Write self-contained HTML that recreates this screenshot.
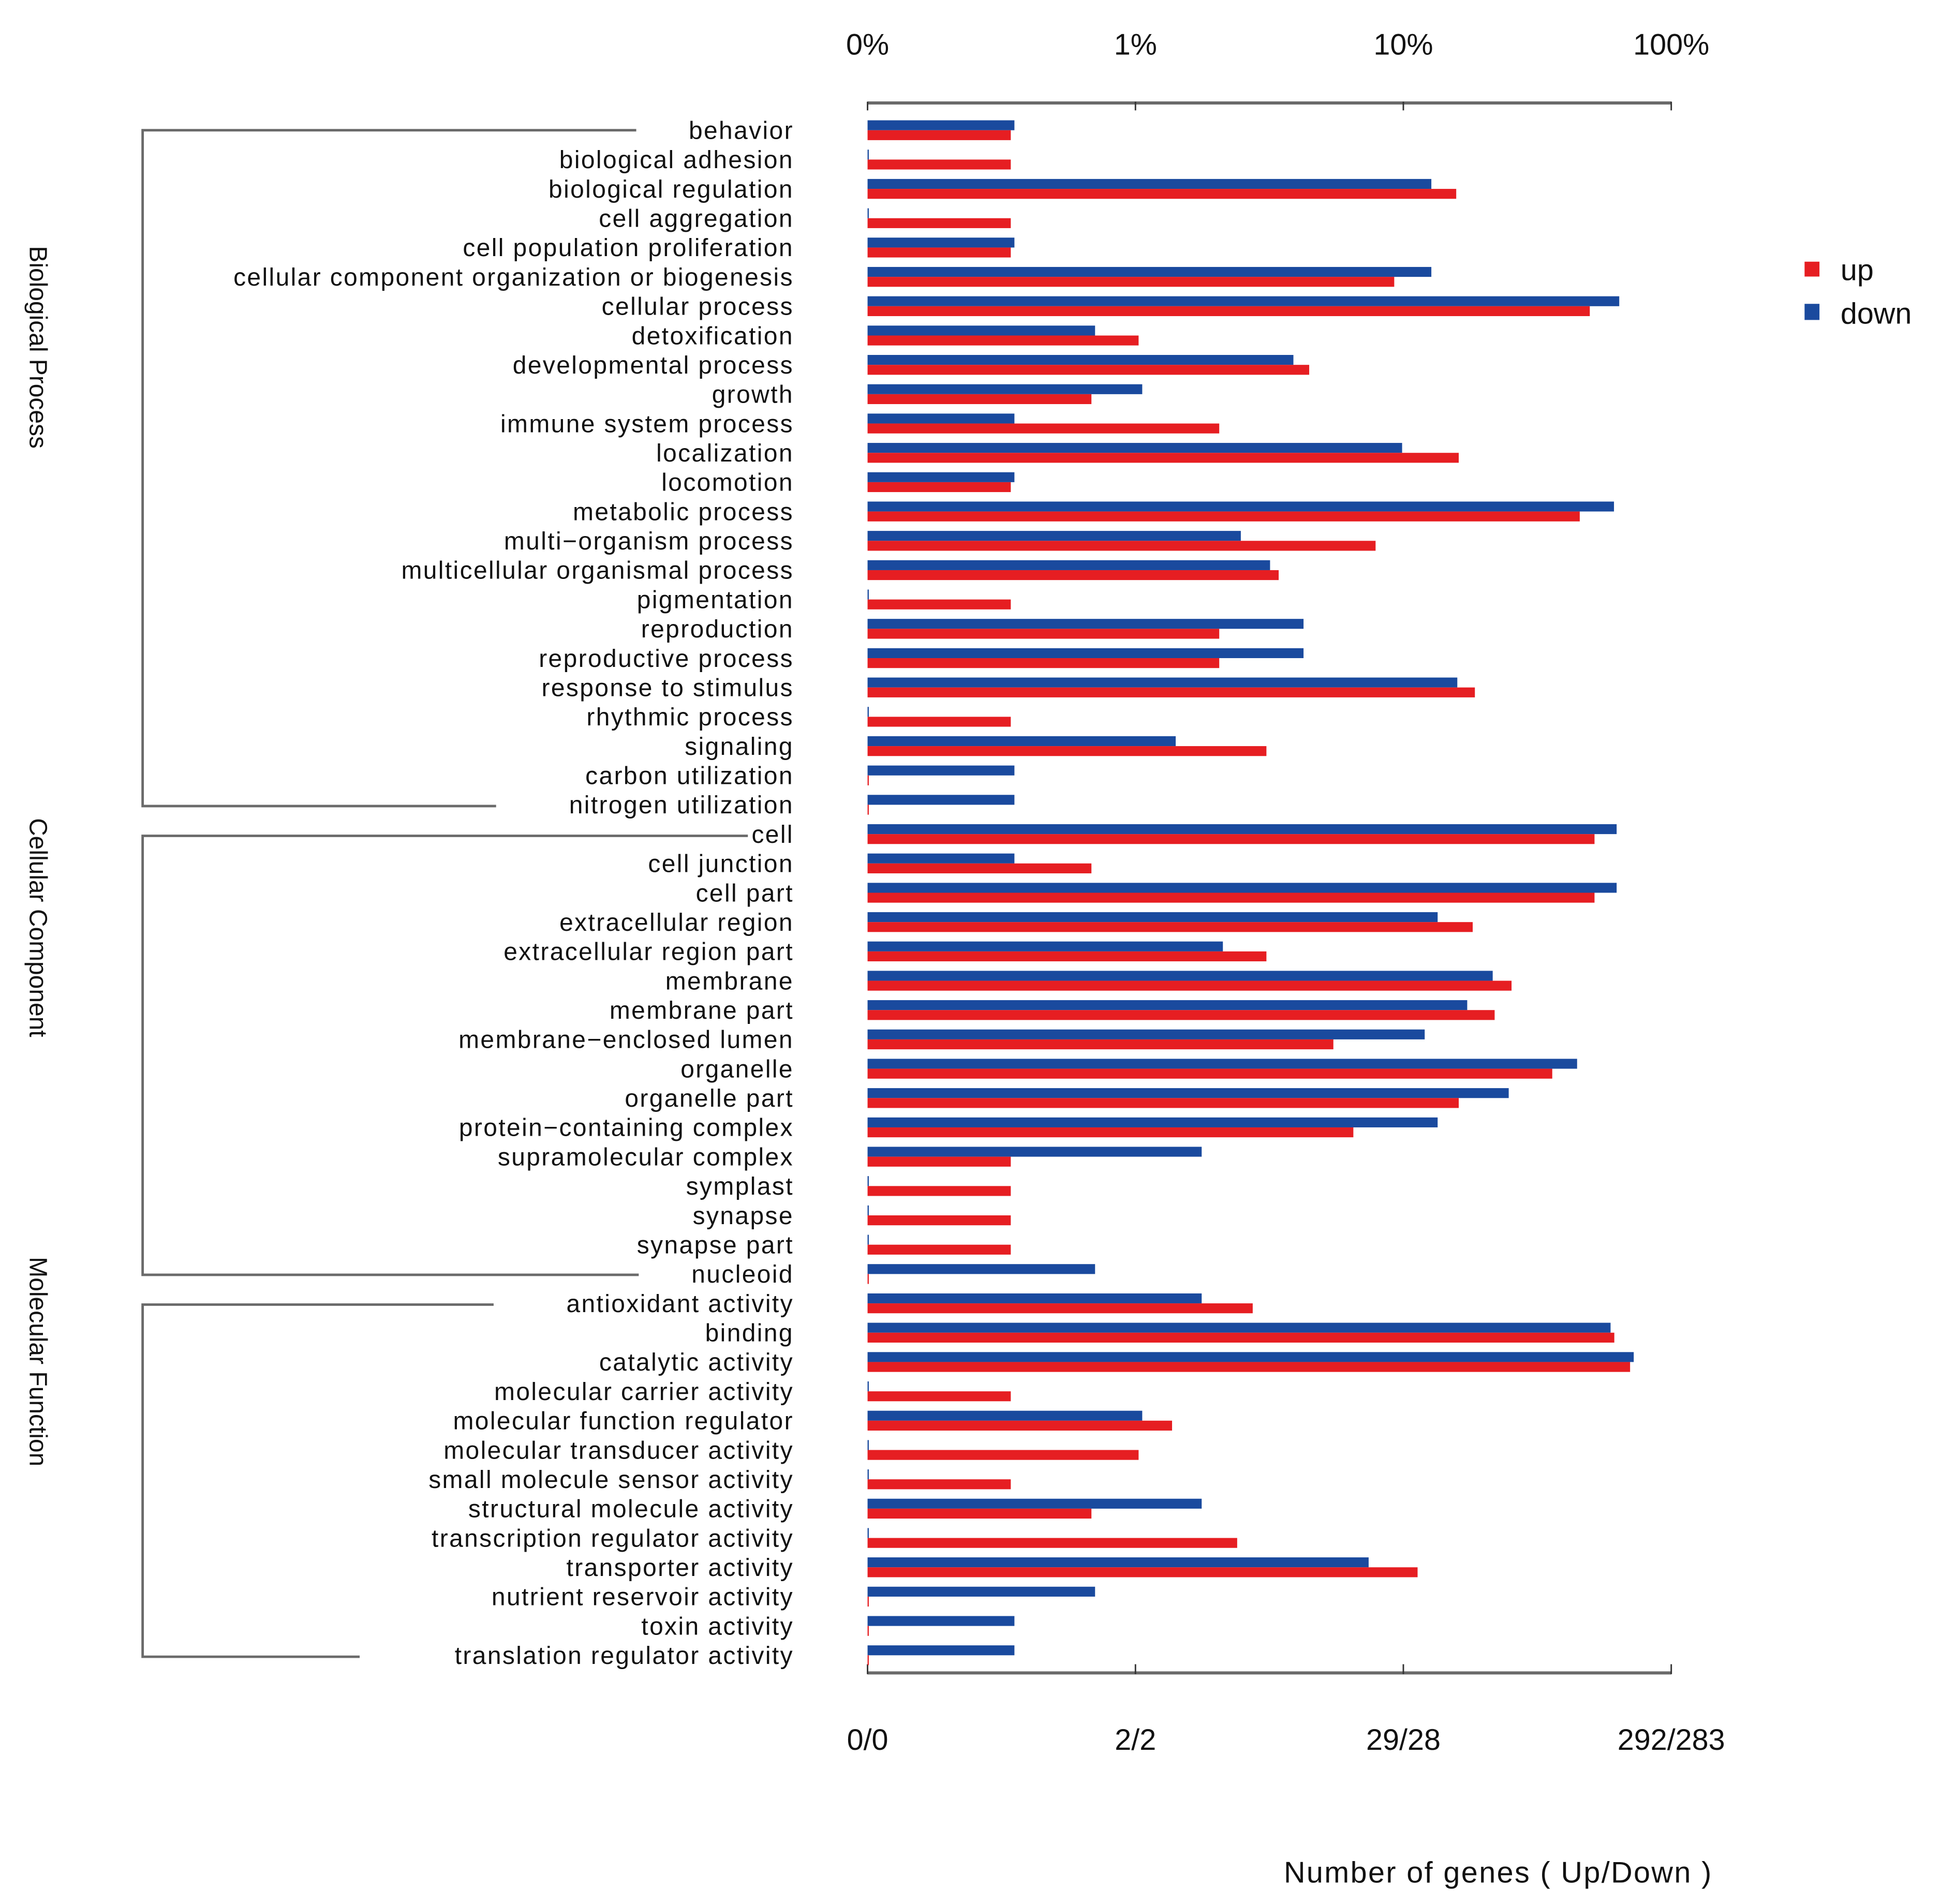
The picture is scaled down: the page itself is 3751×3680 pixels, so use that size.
<!DOCTYPE html>
<html><head><meta charset="utf-8"><style>
html,body{margin:0;padding:0;background:#fff;}
svg{display:block;}
text{font-family:"Liberation Sans",sans-serif;fill:#111;}
</style></head><body>
<svg id="chart" width="3751" height="3680" viewBox="0 0 1565 1535.35" xmlns="http://www.w3.org/2000/svg">
<g id="brackets" stroke="#6a6a6a" stroke-width="2" fill="none">
<path d="M513,105 H115 V650 H400"/>
<path d="M603,674 H115 V1028 H515"/>
<path d="M398,1052 H115 V1336 H290"/>
</g>
<text font-size="20" transform="translate(24,280) rotate(90)" text-anchor="middle">Biological Process</text>
<text font-size="20" transform="translate(24,748) rotate(90)" text-anchor="middle">Cellular Component</text>
<text font-size="20" transform="translate(24,1098) rotate(90)" text-anchor="middle">Molecular Function</text>
<g id="axes"></g>
<g id="labels"></g>
<g id="bars"></g>
<g>
<rect x="1455" y="211" width="12" height="12" fill="#e61e22"/>
<text x="1484" y="226" font-size="24">up</text>
<rect x="1455" y="245" width="12" height="13" fill="#1a4a9e"/>
<text x="1484" y="261" font-size="24">down</text>
</g>
<text x="1208" y="1518" font-size="24" letter-spacing="1" text-anchor="middle">Number of genes ( Up/Down )</text>
</svg>
<script>
const categories = ["behavior","biological adhesion","biological regulation","cell aggregation","cell population proliferation","cellular component organization or biogenesis","cellular process","detoxification","developmental process","growth","immune system process","localization","locomotion","metabolic process","multi\u2212organism process","multicellular organismal process","pigmentation","reproduction","reproductive process","response to stimulus","rhythmic process","signaling","carbon utilization","nitrogen utilization","cell","cell junction","cell part","extracellular region","extracellular region part","membrane","membrane part","membrane\u2212enclosed lumen","organelle","organelle part","protein\u2212containing complex","supramolecular complex","symplast","synapse","synapse part","nucleoid","antioxidant activity","binding","catalytic activity","molecular carrier activity","molecular function regulator","molecular transducer activity","small molecule sensor activity","structural molecule activity","transcription regulator activity","transporter activity","nutrient reservoir activity","toxin activity","translation regulator activity"];
const upCounts = [1,1,46,1,1,27,145,3,13,2,6,47,1,133,23,10,1,6,6,54,1,9,0,0,151,2,151,53,9,74,64,16,105,47,19,1,1,1,1,0,8,179,205,1,4,3,1,2,7,33,0,0,0];
const downCounts = [1,0,36,0,1,36,181,2,11,3,1,28,1,173,7,9,0,12,12,45,0,4,1,1,177,1,177,38,6,61,49,34,126,70,38,5,0,0,0,2,5,168,205,0,3,0,0,5,0,21,2,1,1];
const upTotal = 292;
const downTotal = 283;
const topTicks = ["0%","1%","10%","100%"];
const bottomTicks = ["0/0","2/2","29/28","292/283"];
const tickPercents = [0.1,1,10,100];

const NS = "http://www.w3.org/2000/svg";
const X0 = 915.5, DEC = 216, ROW0 = 105, ROWH = 23.65;
function xScale(pct){ return X0 + DEC*Math.log10(Math.max(pct,0.1)); }
function yRow(i){ return ROW0 + i*ROWH; }
function mk(tag, attrs, parent){ const e=document.createElementNS(NS,tag); for(const k in attrs) e.setAttribute(k,attrs[k]); parent.appendChild(e); return e; }

const axes = document.getElementById('axes');
const axL = xScale(tickPercents[0]), axR = xScale(tickPercents[tickPercents.length-1]);
let el = mk('line',{x1:axL,x2:axR,y1:83,y2:83,stroke:'#6a6a6a','stroke-width':2.5},axes);


el = mk('line',{x1:axL,x2:axR,y1:1349,y2:1349,stroke:'#6a6a6a','stroke-width':2.5},axes);


tickPercents.forEach((p,i)=>{
  const x = xScale(p);
  let t = mk('line',{x1:x,x2:x,y1:82,y2:89,stroke:'#333','stroke-width':1.2},axes);
  
  
  t = mk('line',{x1:x,x2:x,y1:1342,y2:1350,stroke:'#333','stroke-width':1.2},axes);
  
  
  let lb = mk('text',{x:x,y:44,'font-size':24,'text-anchor':'middle'},axes);
  lb.textContent = topTicks[i];
  
  
  lb = mk('text',{x:x,y:1411,'font-size':24,'text-anchor':'middle'},axes);
  lb.textContent = bottomTicks[i];
  
  
});

const labels = document.getElementById('labels');
const bars = document.getElementById('bars');
categories.forEach((c,i)=>{
  const y = yRow(i);
  const t = mk('text',{x:640,y:y+7,'font-size':20,'letter-spacing':1,'text-anchor':'end'},labels);
  t.textContent = c;
  
  
  const dv = downCounts[i], uv = upCounts[i];
  const xd = dv>0 ? xScale(dv/downTotal*100) : axL+1;
  const xu = uv>0 ? xScale(uv/upTotal*100) : axL+1;
  const b = mk('rect',{x:axL,y:y-8,width:xd-axL,height:8,fill:'#1a4a9e'},bars);
  
  
  const r = mk('rect',{x:axL,y:y,width:xu-axL,height:8,fill:'#e61e22'},bars);
  
  
});
</script>
</body></html>
